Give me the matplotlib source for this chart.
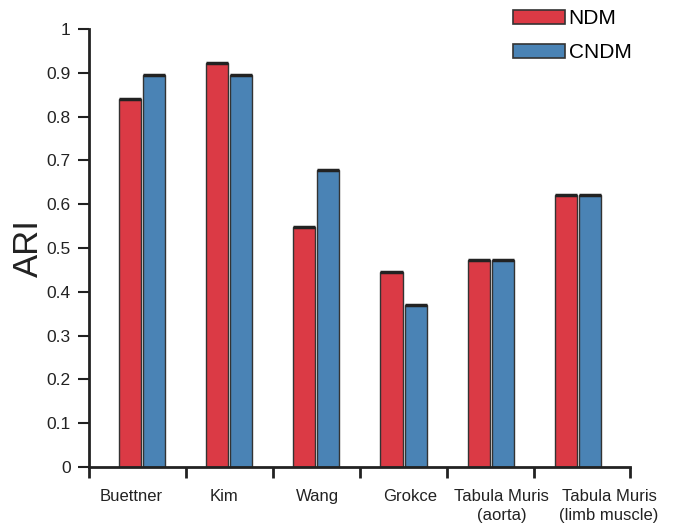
import numpy as np
import matplotlib.pyplot as plt
from matplotlib.patches import Patch

plt.rcParams["font.family"] = ["Liberation Sans", "DejaVu Sans"]

DATASETS = ["Buettner", "Kim", "Wang", "Grokce", "Tabula Muris\n(aorta)",
            "Tabula Muris\n(limb muscle)"]
NDM = [0.84, 0.923, 0.548, 0.445, 0.472, 0.622]
CNDM = [0.894, 0.894, 0.678, 0.369, 0.472, 0.622]

RED = "#db3a45"
BLUE = "#4a83b5"
EDGE = "#333333"
DARK = "#222222"

fig = plt.figure(figsize=(6.78, 5.28), dpi=100)
ax = fig.add_axes([0.131, 0.1155, 0.798, 0.8295])

x = np.arange(len(DATASETS))
w = 0.253
off = 0.138
xr = x - off
xb = x + off
ax.bar(xr, NDM, w, color=RED, edgecolor=EDGE, linewidth=1.0)
ax.bar(xb, CNDM, w, color=BLUE, edgecolor=EDGE, linewidth=1.0)
# dark caps on top of bars
ax.hlines(NDM, xr - w / 2, xr + w / 2, color=DARK, linewidth=2.5)
ax.hlines(CNDM, xb - w / 2, xb + w / 2, color=DARK, linewidth=2.5)

lo, hi = -0.615, len(DATASETS) - 0.4
ax.set_xlim(lo, hi)
ax.set_ylim(0, 1)
ax.set_yticks(np.arange(0, 1.01, 0.1))
ax.set_yticklabels(["0"] + [f"{v:.1f}" for v in np.arange(0.1, 0.95, 0.1)] + ["1"])

# category labels sit slightly right of the bar groups in the original
label_shift = np.array([-0.13, -0.06, 0.01, 0.08, 0.13, 0.36])
ax.set_xticks(x + label_shift)
ax.set_xticklabels(DATASETS, fontsize=12, color=DARK, linespacing=1.3)
ax.set_xticks([lo] + list(np.arange(0.5, len(DATASETS) - 1, 1)) + [hi], minor=True)
ax.tick_params(axis="x", which="major", length=0, pad=16)
ax.tick_params(axis="x", which="minor", length=8, width=2, direction="out", color=DARK)
ax.tick_params(axis="y", length=8, width=1.5, pad=5, labelsize=12.5, color=DARK, labelcolor=DARK)
for s in ["top", "right"]:
    ax.spines[s].set_visible(False)
for s in ["left", "bottom"]:
    ax.spines[s].set_linewidth(2)
    ax.spines[s].set_color(DARK)

ax.set_ylabel("ARI", fontsize=25, color=DARK, labelpad=1)

handles = [Patch(facecolor=RED, edgecolor=EDGE, linewidth=1.2, label="NDM"),
           Patch(facecolor=BLUE, edgecolor=EDGE, linewidth=1.2, label="CNDM")]
fig.legend(handles=handles, loc="upper left", bbox_to_anchor=(0.751, 0.99),
           frameon=False, fontsize=15, handlelength=2.5, handleheight=0.7,
           handletextpad=0.15, labelspacing=0.72, borderaxespad=0, borderpad=0.2)

fig.savefig("out.png", dpi=100)
